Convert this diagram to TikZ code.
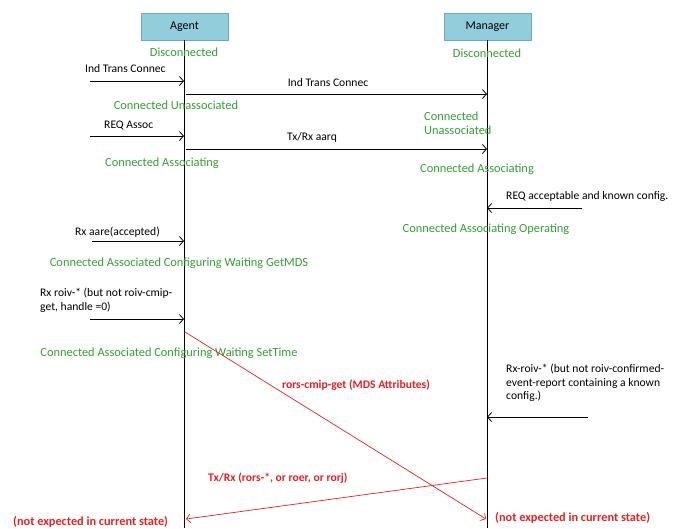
\documentclass[tikz,border=0pt]{standalone}
\usepackage{fontspec}
\setmainfont{Carlito}
\usetikzlibrary{arrows.meta}
\definecolor{boxfill}{RGB}{146,205,220}
\definecolor{boxdraw}{RGB}{105,172,192}
\definecolor{stgreen}{RGB}{50,160,50}
\definecolor{msgred}{RGB}{232,32,32}
\tikzset{
  actor/.style={draw=boxdraw, fill=boxfill, line width=0.8pt, minimum width=87pt, minimum height=27pt, inner sep=0pt, font=\fontsize{12}{14}\selectfont},
  state/.style={text=stgreen, font=\fontsize{12.4}{14}\selectfont, inner sep=0pt, align=left},
  lbl/.style={font=\fontsize{11.6}{14}\selectfont, inner sep=0pt, align=left},
  redlbl/.style={text=msgred, font=\bfseries\fontsize{11.6}{14}\selectfont, inner sep=0pt},
  lifeline/.style={line width=0.8pt},
  msg/.style={-{Straight Barb[length=4pt,width=9pt]}, line width=0.8pt},
  redmsg/.style={msg, draw=msgred, line width=0.7pt}
}
\begin{document}
\begin{tikzpicture}[x=1pt,y=-1pt]
\path[use as bounding box] (0,0) rectangle (680,528);
% actors
\node[actor] (agent) at (184.5,26.5) {Agent};
\node[actor] (manager) at (487.5,26.5) {Manager};
\coordinate (agentend) at (184.5,528);
\coordinate (managerend) at (487.5,528);
\draw[lifeline] (agent.south) -- (agentend);
\draw[lifeline] (manager.south) -- (managerend);

% states
\node[state] (s1) at (184,52) {Disconnected};
\node[state] (s2) at (487,53) {Disconnected};
\node[state] (s3) at (176,105) {Connected Unassociated};
\node[state, anchor=west] (s4) at (424,123) {Connected\\Unassociated};
\node[state] (s5) at (162,163) {Connected Associating};
\node[state] (s6) at (477,169) {Connected Associating};
\node[state] (s7) at (486,229) {Connected Associating Operating};
\node[state] (s8) at (179,263) {Connected Associated Configuring Waiting GetMDS};
\node[state] (s9) at (169,353) {Connected Associated Configuring Waiting SetTime};

% labels
\node[lbl, anchor=west] (l1) at (85,69) {Ind Trans Connec};
\node[lbl] (l2) at (328,83) {Ind Trans Connec};
\node[lbl, anchor=west] (l3) at (104,125) {REQ Assoc};
\node[lbl, anchor=west] (l4) at (287,137) {Tx/Rx aarq};
\node[lbl, anchor=west] (l5) at (506,196) {REQ acceptable and known config.};
\node[lbl, anchor=west] (l6) at (75,232) {Rx aare(accepted)};
\node[lbl, anchor=west] (l7) at (40,300) {Rx roiv-* (but not roiv-cmip-\\get, handle =0)};
\node[lbl, anchor=west, font=\fontsize{11.6}{13.5}\selectfont] (l8) at (506,383) {Rx-roiv-* (but not roiv-confirmed-\\event-report containing a known\\config.)};
\node[redlbl] (r1) at (356,385) {rors-cmip-get (MDS Attributes)};
\node[redlbl, anchor=west] (r2) at (208,478) {Tx/Rx (rors-*, or roer, or rorj)};
\node[redlbl, anchor=west, font=\bfseries\fontsize{12.3}{14}\selectfont] (r3) at (13,522) {(not expected in current state)};
\node[redlbl, anchor=west, font=\bfseries\fontsize{12.3}{14}\selectfont] (r4) at (495,518) {(not expected in current state)};

% message end points
\coordinate (m1s) at (90,81);    \coordinate (m1e) at (184,81);
\coordinate (m2s) at (186,94);   \coordinate (m2e) at (487,94);
\coordinate (m3s) at (90,136);   \coordinate (m3e) at (184,136);
\coordinate (m4s) at (186,149);  \coordinate (m4e) at (487,149);
\coordinate (m5s) at (582,208);  \coordinate (m5e) at (487,208);
\coordinate (m6s) at (92,241);   \coordinate (m6e) at (184,241);
\coordinate (m7s) at (90,319);   \coordinate (m7e) at (184,319);
\coordinate (m8s) at (588,417);  \coordinate (m8e) at (487,417);
\coordinate (r1s) at (185,332);  \coordinate (r1e) at (486,519);
\coordinate (r2s) at (487,478);  \coordinate (r2e) at (186,519);

\draw[msg] (m1s) -- (m1e);
\draw[msg] (m2s) -- (m2e);
\draw[msg] (m3s) -- (m3e);
\draw[msg] (m4s) -- (m4e);
\draw[msg] (m5s) -- (m5e);
\draw[msg] (m6s) -- (m6e);
\draw[msg] (m7s) -- (m7e);
\draw[msg] (m8s) -- (m8e);
\draw[redmsg] (r1s) -- (r1e);
\draw[redmsg] (r2s) -- (r2e);
\end{tikzpicture}
\end{document}
